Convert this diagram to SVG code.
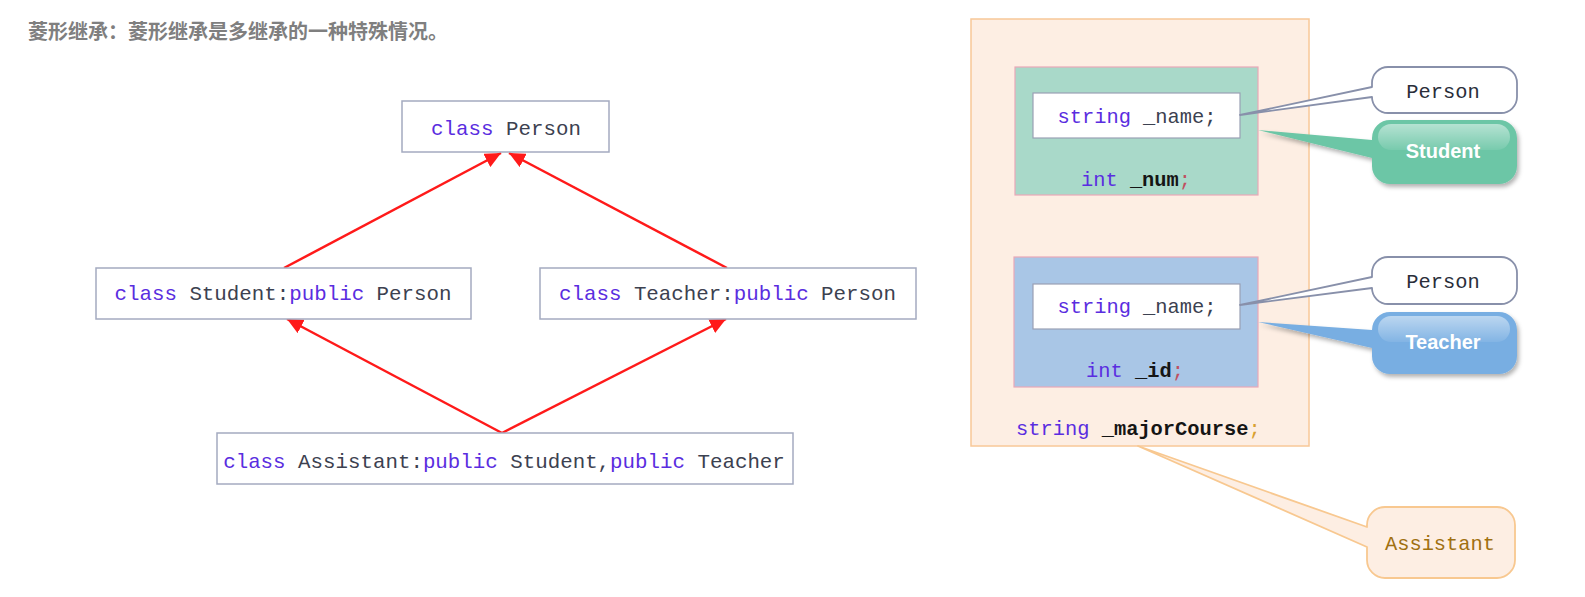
<svg xmlns="http://www.w3.org/2000/svg" width="1585" height="597" viewBox="0 0 1585 597">
<style>
.box{fill:#fff;stroke:#a4aac0;stroke-width:1.5}
.code{font-family:"Liberation Mono",monospace;font-size:20.8px;fill:#3c4150}
.rcode{font-family:"Liberation Mono",monospace;font-size:20.4px;fill:#3c4150}
.kw{fill:#5a2de0}
.id{fill:#151515;font-weight:bold}
.dark{fill:#2a2e3a}
.gold{fill:#a07010}
.arrow{stroke:#ff1a1a;stroke-width:2.5;fill:none;marker-end:url(#ah)}
.title{font-family:"Noto Sans CJK SC","Noto Sans",sans-serif;font-size:20px;font-weight:bold;fill:#7f7f7f}
.lbl{font-family:"Liberation Sans",Arial,sans-serif;font-size:20px;font-weight:bold;fill:#fff}
</style>
<defs>
<marker id="ah" markerUnits="userSpaceOnUse" markerWidth="17" markerHeight="15" refX="16" refY="7.5" orient="auto">
<path d="M0,0 L16,7.5 L0,15 z" fill="#ff1a1a"/>
</marker>
<linearGradient id="gloss" x1="0" y1="0" x2="0" y2="1">
<stop offset="0" stop-color="#fff" stop-opacity="0.5"/>
<stop offset="1" stop-color="#fff" stop-opacity="0.08"/>
</linearGradient>
<filter id="sh" x="-10%" y="-10%" width="130%" height="140%">
<feDropShadow dx="2" dy="3" stdDeviation="2" flood-color="#000" flood-opacity="0.3"/>
</filter>
</defs>
<rect width="1585" height="597" fill="#fff"/>
<text class="title" x="28" y="39">菱形继承：菱形继承是多继承的一种特殊情况。</text>

<g id="connectors">
<line class="arrow" x1="284" y1="268" x2="501" y2="153"/>
<line class="arrow" x1="727" y1="268" x2="509" y2="153"/>
<line class="arrow" x1="502" y1="433" x2="287" y2="319"/>
<line class="arrow" x1="502" y1="433" x2="726" y2="319"/>
</g>

<g id="person">
<rect class="box" x="402" y="101" width="207" height="51"/>
<text class="code" x="506" y="135" text-anchor="middle"><tspan class="kw">class</tspan> Person</text>
</g>
<g id="student">
<rect class="box" x="96" y="268" width="375" height="51"/>
<text class="code" x="283" y="300" text-anchor="middle"><tspan class="kw">class</tspan> Student:<tspan class="kw">public</tspan> Person</text>
</g>
<g id="teacher">
<rect class="box" x="540" y="268" width="376" height="51"/>
<text class="code" x="727.5" y="300" text-anchor="middle"><tspan class="kw">class</tspan> Teacher:<tspan class="kw">public</tspan> Person</text>
</g>
<g id="assistant">
<rect class="box" x="217" y="433" width="576" height="51"/>
<text class="code" x="504" y="468" text-anchor="middle"><tspan class="kw">class</tspan> Assistant:<tspan class="kw">public</tspan> Student,<tspan class="kw">public</tspan> Teacher</text>
</g>

<g id="assistant-layout">
<rect x="971" y="19" width="338" height="427" fill="#fdeee3" stroke="#f8c898" stroke-width="1.5"/>
<text class="rcode" x="1016" y="435"><tspan class="kw">string</tspan> <tspan class="id">_majorCourse</tspan><tspan style="fill:#d8a030">;</tspan></text>
</g>
<g id="student-part">
<rect x="1015" y="67" width="243" height="128" fill="#a9d9c9" stroke="#eaa8b8" stroke-width="1.2"/>
<rect x="1033" y="93" width="207" height="45" fill="#fff" stroke="#9aa0b4" stroke-width="1.2"/>
<text class="rcode" x="1137" y="123" text-anchor="middle"><tspan class="kw">string</tspan> _name;</text>
<text class="rcode" x="1136" y="186" text-anchor="middle"><tspan class="kw">int</tspan> <tspan class="id">_num</tspan><tspan style="fill:#c05060">;</tspan></text>
</g>
<g id="teacher-part">
<rect x="1014" y="257" width="244" height="130" fill="#a9c6e6" stroke="#eaa8b8" stroke-width="1.2"/>
<rect x="1033" y="284" width="207" height="45" fill="#fff" stroke="#9aa0b4" stroke-width="1.2"/>
<text class="rcode" x="1137" y="313" text-anchor="middle"><tspan class="kw">string</tspan> _name;</text>
<text class="rcode" x="1135" y="377" text-anchor="middle"><tspan class="kw">int</tspan> <tspan class="id">_id</tspan><tspan style="fill:#c05060">;</tspan></text>
</g>

<g id="callout-person-1">
<path d="M1388,67 H1501 A16,16 0 0 1 1517,83 V97 A16,16 0 0 1 1501,113 H1388 A16,16 0 0 1 1372,97 L1240,115 L1372,87 V83 A16,16 0 0 1 1388,67 Z" fill="#fff" stroke="#8890aa" stroke-width="1.8" stroke-linejoin="round"/>
<text class="rcode dark" x="1443" y="98" text-anchor="middle">Person</text>
</g>
<g id="callout-student">
<path d="M1390,120 H1499 A18,18 0 0 1 1517,138 V166 A18,18 0 0 1 1499,184 H1390 A18,18 0 0 1 1372,166 V158 L1258,130 L1372,140 V138 A18,18 0 0 1 1390,120 Z" fill="#6cc6a6" filter="url(#sh)"/>
<rect x="1378" y="124" width="132" height="26" rx="13" fill="url(#gloss)"/>
<text class="lbl" x="1443" y="158" text-anchor="middle">Student</text>
</g>
<g id="callout-person-2">
<path d="M1388,257 H1501 A16,16 0 0 1 1517,273 V288 A16,16 0 0 1 1501,304 H1388 A16,16 0 0 1 1372,288 L1240,305 L1372,277 V273 A16,16 0 0 1 1388,257 Z" fill="#fff" stroke="#8890aa" stroke-width="1.8" stroke-linejoin="round"/>
<text class="rcode dark" x="1443" y="288" text-anchor="middle">Person</text>
</g>
<g id="callout-teacher">
<path d="M1390,312 H1499 A18,18 0 0 1 1517,330 V356 A18,18 0 0 1 1499,374 H1390 A18,18 0 0 1 1372,356 V348 L1258,322 L1372,330 A18,18 0 0 1 1390,312 Z" fill="#78aee2" filter="url(#sh)"/>
<rect x="1378" y="316" width="132" height="26" rx="13" fill="url(#gloss)"/>
<text class="lbl" x="1443" y="349" text-anchor="middle">Teacher</text>
</g>
<g id="callout-assistant">
<path d="M1385,507 H1497 A18,18 0 0 1 1515,525 V560 A18,18 0 0 1 1497,578 H1385 A18,18 0 0 1 1367,560 V547 L1138,446 L1367,527 V525 A18,18 0 0 1 1385,507 Z" fill="#fdeee3" stroke="#f8c890" stroke-width="1.8" stroke-linejoin="round"/>
<text class="rcode gold" x="1440" y="550" text-anchor="middle">Assistant</text>
</g>
</svg>
